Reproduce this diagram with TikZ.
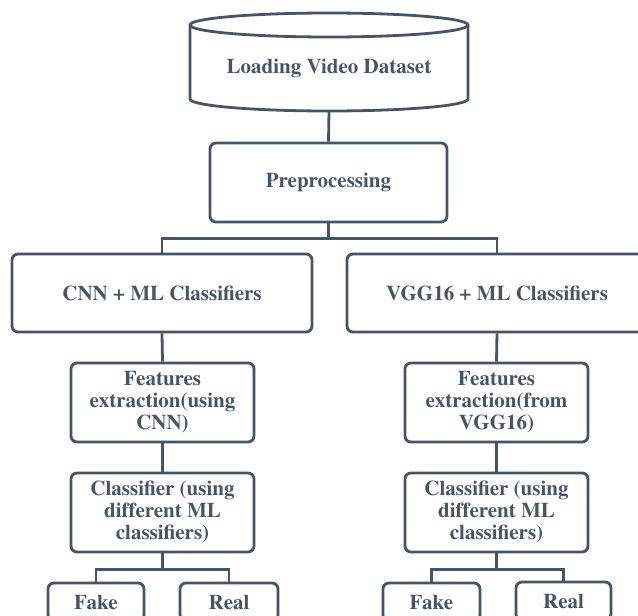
\documentclass[tikz,border=0pt]{standalone}
\usepackage[T1]{fontenc}
\definecolor{slate}{HTML}{44546A}
\begin{document}
\begin{tikzpicture}[x=1pt,y=1pt,
  every node/.style={font=\fontfamily{ptm}\fontseries{b}\fontsize{21}{22}\selectfont, text=slate},
  box/.style={draw=slate, line width=2.8pt, rounded corners=6pt, fill=white, align=center, inner sep=0pt},
  conn/.style={draw=slate, line width=2.8pt}]
\useasboundingbox (0,0) rectangle (638,-616);
\clip (0,0) rectangle (638,-616);
% cylinder
\draw[draw=slate, line width=2.8pt, fill=white]
  (190,-25) -- (190,-99) arc[start angle=180, end angle=360, x radius=139, y radius=12]
  -- (468,-25) arc[start angle=0, end angle=180, x radius=139, y radius=12] -- cycle;
\draw[draw=slate, line width=2.8pt] (190,-25) arc[start angle=180, end angle=360, x radius=139, y radius=12];
\node (load) at (329,-68) {Loading Video Dataset};
\coordinate (cylbot) at (329,-111);
% boxes
\node[box, minimum width=237, minimum height=79] (pre) at (328.5,-182.5) {Preprocessing};
\node[box, minimum width=300, minimum height=78] (cnn) at (162,-293) {CNN + ML Classifiers};
\node[box, minimum width=300, minimum height=78] (vgg) at (497,-293) {VGG16 + ML Classifiers};
\node[box, minimum width=183, minimum height=79] (featL) at (162.5,-402.5) {Features\\extraction(using\\CNN)};
\node[box, minimum width=183, minimum height=79] (clsL) at (162.5,-512.5) {Classifier (using\\different ML\\classifiers)};
\node[box, minimum width=183, minimum height=79] (featR) at (496.5,-402.5) {Features\\extraction(from\\VGG16)};
\node[box, minimum width=183, minimum height=79] (clsR) at (496.5,-512.5) {Classifier (using\\different ML\\classifiers)};
\node[box, minimum width=96, minimum height=38] (fakeL) at (96,-602) {Fake};
\node[box, minimum width=98, minimum height=38] (realL) at (229,-602) {Real};
\node[box, minimum width=97, minimum height=38] (fakeR) at (431.5,-602) {Fake};
\node[box, minimum width=95, minimum height=38] (realR) at (563.5,-601) {Real};
% connectors
\draw[conn] (cylbot) -- (pre.north);
\draw[conn] (pre.south) -- ++(0,-15) -| (cnn.north);
\draw[conn] (pre.south) -- ++(0,-15) -| (vgg.north);
\draw[conn] (cnn.south) -- (featL.north);
\draw[conn] (featL.south) -- (clsL.north);
\draw[conn] (vgg.south) -- (featR.north);
\draw[conn] (featR.south) -- (clsR.north);
\draw[conn] (clsL.south) -- ++(0,-16) -| (fakeL.north);
\draw[conn] (clsL.south) -- ++(0,-16) -| (realL.north);
\draw[conn] (clsR.south) -- ++(0,-16) -| (fakeR.north);
\draw[conn] (clsR.south) -- ++(0,-16) -| (realR.north);
\end{tikzpicture}
\end{document}
